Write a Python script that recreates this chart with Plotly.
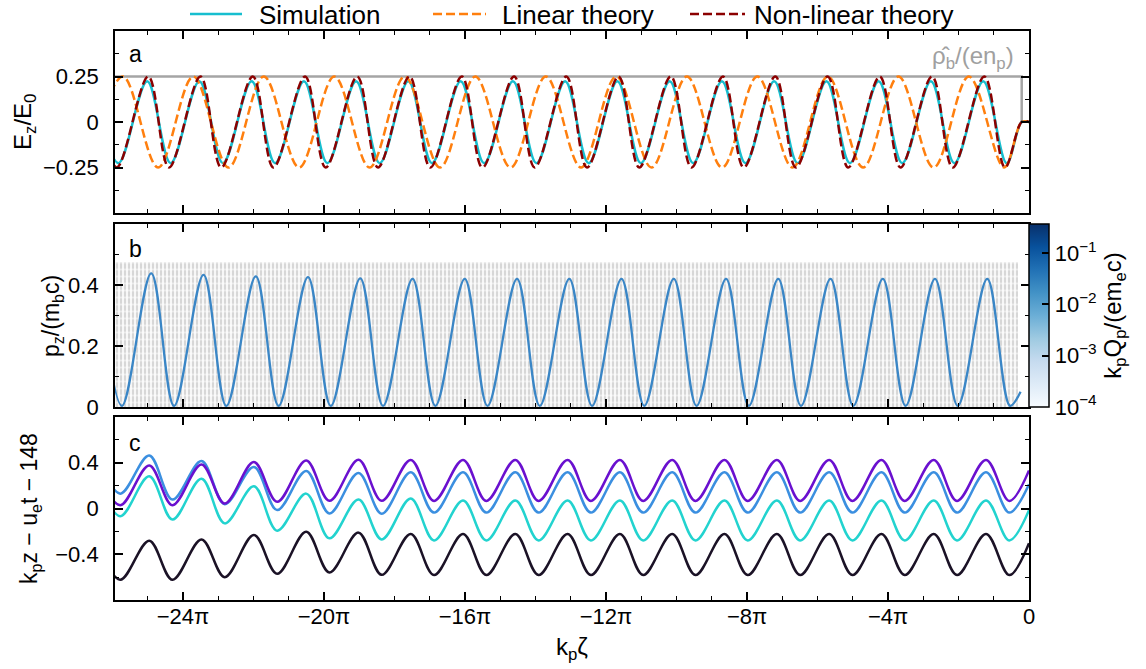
import math
import plotly.graph_objects as go

PI = math.pi
W, H = 1146, 669

# ---------------- data ----------------
# x positions are in k_p*zeta units
xtick_vals = [-24 * PI, -20 * PI, -16 * PI, -12 * PI, -8 * PI, -4 * PI, 0.0]
xtick_text = ["\u221224\u03c0", "\u221220\u03c0", "\u221216\u03c0", "\u221212\u03c0",
              "\u22128\u03c0", "\u22124\u03c0", "0"]

# panel a: beam density profile
rho_zeta = [-81.46, -0.65, -0.65]
rho_val = [0.25, 0.25, 0.0]

# panel a: non-linear theory extrema
nl_peak_zeta = [-83.15, -78.49, -73.84, -69.18, -64.52, -59.87, -55.21, -50.55, -45.89,
                -41.24, -36.58, -31.92, -27.27, -22.61, -17.95, -13.30, -8.64, -3.98]
nl_peak_val = [0.25] * 18
nl_min_zeta = [-81.31, -76.65, -71.99, -67.34, -62.68, -58.02, -53.36, -48.71, -44.05,
               -39.39, -34.74, -30.08, -25.42, -20.77, -16.11, -11.45, -6.80, -2.14]
nl_min_val = [-0.25] * 18

# panel a: simulation extrema
sim_peak_zeta = [-83.25, -78.59, -73.94, -69.28, -64.62, -59.97, -55.31, -50.65, -45.99,
                 -41.34, -36.68, -32.02, -27.37, -22.71, -18.05, -13.40, -8.74, -4.08]
sim_peak_val = [0.224] * 18
sim_min_zeta = [-81.16, -76.50, -71.84, -67.19, -62.53, -57.87, -53.21, -48.56, -43.90,
                -39.24, -34.59, -29.93, -25.27, -20.62, -15.96, -11.30, -6.65, -1.99]
sim_min_val = [-0.226] * 18

# panel a: linear theory extrema
lin_peak_zeta = [-80.76, -74.48, -68.20, -61.91, -55.63, -49.35, -43.06, -36.78, -30.49,
                 -24.21, -17.93, -11.64, -5.36]
lin_peak_val = [0.25] * 13
lin_min_zeta = [-83.90, -77.62, -71.34, -65.05, -58.77, -52.49, -46.20, -39.92, -33.64,
                -27.35, -21.07, -14.79, -8.50, -2.22]
lin_min_val = [-0.25] * 14

# field ahead of the beam
tail_zeta = [-0.65, 0.0]
tail_val = [0.0, 0.0]

# panel b: momentum of beam particles
pz_peak_zeta = [-82.88, -78.23, -73.57, -68.91, -64.26, -59.60, -54.94, -50.29, -45.63,
                -40.97, -36.32, -31.66, -27.00, -22.35, -17.69, -13.03, -8.38, -3.72]
pz_peak_val = [0.44, 0.438, 0.433, 0.428, 0.426, 0.422] + [0.42] * 12
pz_min_zeta = [-80.85, -76.20, -71.54, -66.88, -62.23, -57.57, -52.91, -48.26, -43.60,
               -38.94, -34.29, -29.63, -24.97, -20.32, -15.66, -11.00, -6.35, -1.69]
pz_min_val = [0.004] * 18
pz_end_zeta = [-0.75]
pz_end_val = [0.05]
speckle_zeta = [-81.46, -0.98]
speckle_pz = [0.0, 0.475]

# colour scale range (log10 of k_p Q_p / (e m_e c))
cb_min, cb_max = -4.0, -0.43
cb_tickvals = [-4, -3, -2, -1]
cb_ticktext = ["10<sup>\u22124</sup>", "10<sup>\u22123</sup>", "10<sup>\u22122</sup>",
               "10<sup>\u22121</sup>"]

# panel c: particle trajectories
c_peak_zeta = [-83.07, -78.41, -73.75, -69.08, -64.42, -59.76, -55.10, -50.44, -45.78,
               -41.12, -36.46, -31.80, -27.14, -22.47, -17.81, -13.15, -8.49, -3.83]
c_min_zeta = [-81.00, -76.34, -71.68, -67.01, -62.35, -57.69, -53.03, -48.37, -43.71,
              -39.05, -34.39, -29.73, -25.07, -20.40, -15.74, -11.08, -6.42, -1.76]
c_end_zeta = [0.0]

purple_peak = [0.34, 0.377, 0.385, 0.406, 0.420, 0.426] + [0.425] * 12
purple_min = [0.029, 0.029, 0.043, 0.058, 0.067, 0.067] + [0.066] * 12
purple_end = [0.333]

blue_peak = [0.48, 0.464, 0.415, 0.363, 0.328, 0.310] + [0.316] * 12
blue_min = [0.130, 0.078, 0.038, -0.014, -0.043, -0.046] + [-0.036] * 12
blue_end = [0.211]

turq_peak = [0.29, 0.281, 0.261, 0.194, 0.130, 0.078, 0.087] + [0.070] * 11
turq_min = [-0.067, -0.096, -0.130, -0.194, -0.261, -0.270] + [-0.279] * 12
turq_end = [-0.015]

black_peak = [-0.29, -0.281, -0.270, -0.232, -0.203, -0.211] + [-0.223] * 12
black_min = [-0.623, -0.623, -0.600, -0.571, -0.559, -0.580] + [-0.582] * 12
black_end = [-0.304]

legend_names = ["Simulation", "Linear theory", "Non-linear theory"]


def merge(*pairs):
    pts = []
    for zs, vs in pairs:
        pts.extend(zip(zs, vs))
    pts.sort(key=lambda p: p[0])
    return [p[0] for p in pts], [p[1] for p in pts]


FONT = "Liberation Sans, Arial, sans-serif"
C_SIM = "#17becf"
C_LIN = "#ff7f0e"
C_NL = "#8b0000"
C_RHO = "#a5a5a5"
DASH = "9px,4px"

fig = go.Figure()

# ---- panel a ----
fig.add_trace(go.Scatter(x=rho_zeta, y=rho_val, mode="lines", xaxis="x2", yaxis="y2",
                         line=dict(color=C_RHO, width=2.5), showlegend=False, hoverinfo="skip"))
zx, zy = merge((sim_peak_zeta, sim_peak_val), (sim_min_zeta, sim_min_val), (tail_zeta, tail_val))
fig.add_trace(go.Scatter(x=zx, y=zy, mode="lines", xaxis="x2", yaxis="y2", name=legend_names[0],
                         line=dict(color=C_SIM, width=2.5, shape="spline", smoothing=1.0),
                         showlegend=False))
zx, zy = merge((lin_peak_zeta, lin_peak_val), (lin_min_zeta, lin_min_val), (tail_zeta, tail_val))
fig.add_trace(go.Scatter(x=zx, y=zy, mode="lines", xaxis="x2", yaxis="y2", name=legend_names[1],
                         line=dict(color=C_LIN, width=2.5, dash=DASH, shape="spline", smoothing=1.0),
                         showlegend=False))
zx, zy = merge((nl_peak_zeta, nl_peak_val), (nl_min_zeta, nl_min_val), (tail_zeta, tail_val))
fig.add_trace(go.Scatter(x=zx, y=zy, mode="lines", xaxis="x2", yaxis="y2", name=legend_names[2],
                         line=dict(color=C_NL, width=2.5, dash=DASH, shape="spline", smoothing=1.0),
                         showlegend=False))

# ---- panel b ----
box_x = [speckle_zeta[0], speckle_zeta[1], speckle_zeta[1], speckle_zeta[0], speckle_zeta[0]]
box_y = [speckle_pz[0], speckle_pz[0], speckle_pz[1], speckle_pz[1], speckle_pz[0]]
fig.add_trace(go.Scatter(
    x=box_x, y=box_y, mode="lines", fill="toself", xaxis="x3", yaxis="y3",
    line=dict(width=0, color="rgba(0,0,0,0)"), fillcolor="rgba(255,255,255,0)",
    fillpattern=dict(shape="|", fgcolor="#b0b0b0", size=4, solidity=0.6),
    showlegend=False, hoverinfo="skip"))
fig.add_trace(go.Scatter(
    x=box_x, y=box_y, mode="lines", fill="toself", xaxis="x3", yaxis="y3",
    line=dict(width=0, color="rgba(0,0,0,0)"), fillcolor="rgba(255,255,255,0)",
    fillpattern=dict(shape="-", fgcolor="white", size=7, solidity=0.25),
    showlegend=False, hoverinfo="skip"))
zx, zy = merge((pz_peak_zeta, pz_peak_val), (pz_min_zeta, pz_min_val), (pz_end_zeta, pz_end_val))
fig.add_trace(go.Scatter(x=zx, y=zy, mode="lines", xaxis="x3", yaxis="y3",
                         line=dict(color="#3a86c6", width=2.3, shape="spline", smoothing=1.0),
                         showlegend=False))
BLUES = [[0.0, "rgb(247,251,255)"], [0.125, "rgb(222,235,247)"], [0.25, "rgb(198,219,239)"],
         [0.375, "rgb(158,202,225)"], [0.5, "rgb(107,174,214)"], [0.625, "rgb(66,146,198)"],
         [0.75, "rgb(33,113,181)"], [0.875, "rgb(8,81,156)"], [1.0, "rgb(8,48,107)"]]
fig.add_trace(go.Scatter(
    x=[pz_peak_zeta[-1]], y=[pz_peak_val[-1]], mode="markers", xaxis="x3", yaxis="y3",
    marker=dict(size=1, color=[-1.5], colorscale=BLUES, cmin=cb_min, cmax=cb_max, showscale=True,
                colorbar=dict(
                    x=1029 / W, xanchor="left", xpad=0, y=1 - 315.5 / H, yanchor="middle", ypad=0,
                    len=183 / H, lenmode="fraction", thickness=20, thicknessmode="pixels",
                    outlinewidth=1.5, outlinecolor="black",
                    tickmode="array", tickvals=cb_tickvals, ticktext=cb_ticktext,
                    ticks="inside", ticklen=7, tickwidth=1.5, tickcolor="black",
                    tickfont=dict(family=FONT, size=22, color="black"),
                    title=dict(text="k<sub>p</sub>Q<sub>p</sub>/(em<sub>e</sub>c)", side="right",
                               font=dict(family=FONT, size=24, color="black")))),
    showlegend=False, hoverinfo="skip"))

# ---- panel c ----
for peaks, mins, end, col in [(black_peak, black_min, black_end, "#1b1226"),
                              (turq_peak, turq_min, turq_end, "#22d3cf"),
                              (blue_peak, blue_min, blue_end, "#3b8fe0"),
                              (purple_peak, purple_min, purple_end, "#6a10cf")]:
    zx, zy = merge((c_peak_zeta, peaks), (c_min_zeta, mins), (c_end_zeta, end))
    fig.add_trace(go.Scatter(x=zx, y=zy, mode="lines", xaxis="x", yaxis="y",
                             line=dict(color=col, width=2.5, shape="spline", smoothing=1.0),
                             showlegend=False))

# ---------------- layout ----------------
XDOM = [115 / W, 1029 / W]
XRANGE = [-81.46, 0.0]
minor_x = [-k * PI for k in range(0, 26)]


def xax(show_labels):
    return dict(domain=XDOM, range=XRANGE, showgrid=False, zeroline=False, automargin=False,
                showline=True, linecolor="black", linewidth=1.8, mirror="ticks",
                ticks="inside", ticklen=8, tickwidth=1.5, tickcolor="black",
                tickmode="array", tickvals=xtick_vals, ticktext=xtick_text,
                showticklabels=show_labels,
                tickfont=dict(family=FONT, size=22, color="black"),
                minor=dict(tickmode="array", tickvals=minor_x, ticks="inside", ticklen=4,
                           tickwidth=1.2, tickcolor="black", showgrid=False))


def yax(dom, rng, tv, minor_dt, anchor):
    return dict(domain=dom, range=rng, anchor=anchor, showgrid=False, zeroline=False,
                automargin=False,
                showline=True, linecolor="black", linewidth=1.8, mirror="ticks",
                ticks="inside", ticklen=8, tickwidth=1.5, tickcolor="black",
                tickmode="array", tickvals=tv, ticklabelstandoff=10,
                tickfont=dict(family=FONT, size=22, color="black"),
                minor=dict(dtick=minor_dt, tick0=0, ticks="inside", ticklen=4, tickwidth=1.2,
                           tickcolor="black", showgrid=False))


layout = dict(
    width=W, height=H, margin=dict(l=0, r=0, t=0, b=0, autoexpand=False),
    paper_bgcolor="white", plot_bgcolor="white",
    font=dict(family=FONT, size=22, color="black"),
    xaxis=dict(xax(True), anchor="y"),
    xaxis2=dict(xax(False), anchor="y2", matches="x"),
    xaxis3=dict(xax(False), anchor="y3", matches="x"),
    yaxis=yax([1 - 600 / H, 1 - 417 / H], [-0.8, 0.8], [-0.4, 0.0, 0.4], 0.2, "x"),
    yaxis2=yax([1 - 213 / H, 1 - 31 / H], [-0.5, 0.5], [-0.25, 0.0, 0.25], 0.125, "x2"),
    yaxis3=yax([1 - 407 / H, 1 - 224 / H], [0.0, 0.6], [0.0, 0.2, 0.4], 0.1, "x3"),
    showlegend=False,
)
fig.update_layout(**layout)
try:
    fig.update_layout(xaxis_ticklabelstandoff=-4)
except Exception:
    fig.update_layout(xaxis_ticklabelstandoff=0)


def ann(text, x, y, size=24, color="black", angle=0, xanchor="center", yanchor="middle"):
    fig.add_annotation(text=text, x=x / W, y=1 - y / H, xref="paper", yref="paper",
                       showarrow=False, textangle=angle, xanchor=xanchor, yanchor=yanchor,
                       font=dict(family=FONT, size=size, color=color))


# legend (drawn as line samples + labels)
legend_items = [(legend_names[0], C_SIM, "solid", 190, 242, 257),
                (legend_names[1], C_LIN, DASH, 433, 486, 500),
                (legend_names[2], C_NL, DASH, 690, 745, 752)]
for name, col, dash, lx0, lx1, tx in legend_items:
    fig.add_shape(type="line", xref="paper", yref="paper", x0=lx0 / W, x1=lx1 / W,
                  y0=1 - 14 / H, y1=1 - 14 / H, line=dict(color=col, width=2.5, dash=dash))
    ann(name, tx, 15, size=26, xanchor="left")

ann("a", 127, 54, size=23, xanchor="left")
ann("b", 127, 249, size=23, xanchor="left")
ann("c", 127, 443, size=23, xanchor="left")
ann("\u03c1\u0302<sub>b</sub>/(en<sub>p</sub>)", 1016, 58, size=24, color="#a0a0a0", xanchor="right")
ann("E<sub>z</sub>/E<sub>0</sub>", 24, 122, angle=-90)
ann("p<sub>z</sub>/(m<sub>b</sub>c)", 52, 316, size=23, angle=-90)
ann("k<sub>p</sub>z \u2212 u<sub>e</sub>t \u2212 148", 30, 509, size=23, angle=-90)
ann("k<sub>p</sub>\u03b6", 572, 648)

fig.write_html("out.html")
